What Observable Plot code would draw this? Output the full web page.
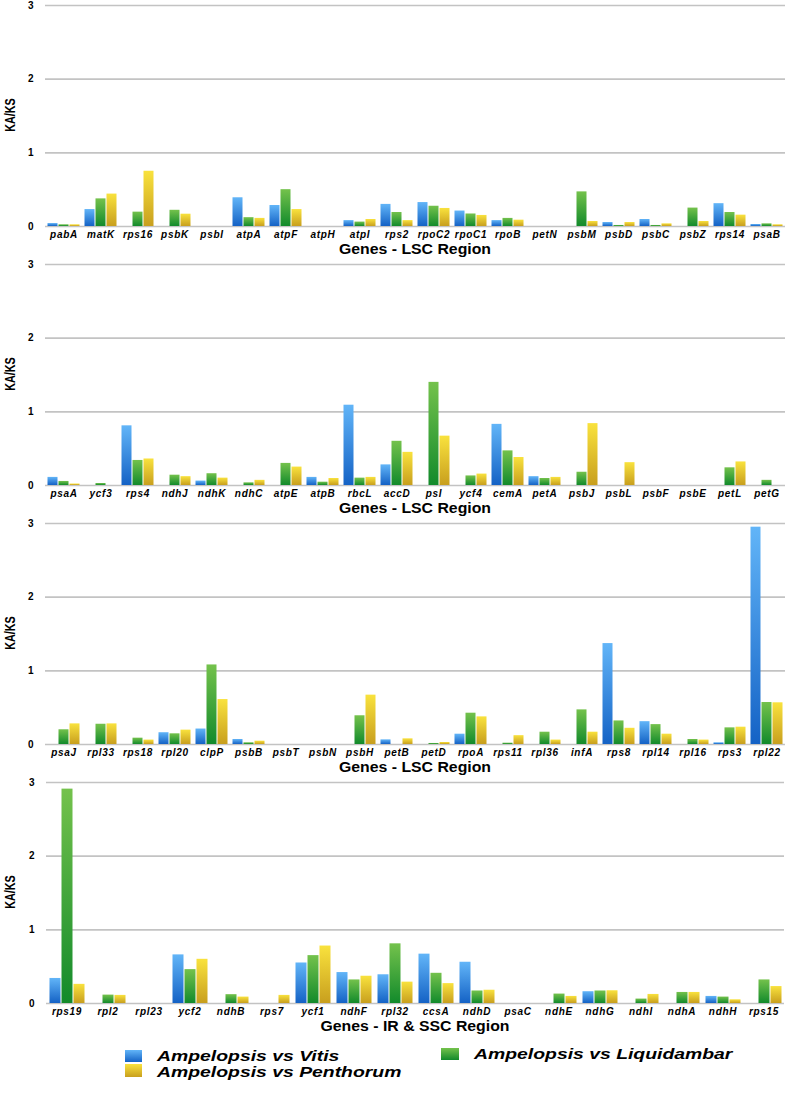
<!DOCTYPE html>
<html><head><meta charset="utf-8">
<script src="https://cdn.jsdelivr.net/npm/d3@7"></script>
<script src="https://cdn.jsdelivr.net/npm/@observablehq/plot@0.6"></script>
<style>
body{margin:0;background:#fff;width:787px;height:1109px;position:relative;overflow:hidden;font-family:"Liberation Sans",Arial,Helvetica,sans-serif;color:#000}
.panel{position:absolute;left:0;width:787px;height:259px}
.panel svg{position:absolute;left:0;top:0;overflow:visible}
.panel svg g[aria-label^="fx-axis"] text{font-style:italic;letter-spacing:0.7px;font-size:10px}
.panel svg g[aria-label^="y-axis"] text{font-size:10px;font-style:normal}
.ylab{position:absolute;left:-20.5px;top:107px;width:60px;height:16px;line-height:16px;text-align:center;font-weight:bold;font-size:15px;transform:rotate(-90deg) scaleX(0.72)}
.xtitle{position:absolute;left:45px;width:740px;top:240px;height:18px;line-height:18px;text-align:center;font-weight:bold;font-size:14px;transform:scaleX(1.13)}
.lg{position:absolute;font-weight:bold;font-style:italic;font-size:15.5px;line-height:16px;transform:scaleX(1.25);transform-origin:left center;white-space:nowrap}
.sw{position:absolute}
</style>
</head><body>
<svg width="0" height="0" style="position:absolute">
<defs>
<linearGradient id="gBlue" x1="0" y1="0" x2="0" y2="1"><stop offset="0" stop-color="#62b5f8"/><stop offset="1" stop-color="#1462c5"/></linearGradient>
<linearGradient id="gGreen" x1="0" y1="0" x2="0" y2="1"><stop offset="0" stop-color="#74c24c"/><stop offset="1" stop-color="#128a2b"/></linearGradient>
<linearGradient id="gYellow" x1="0" y1="0" x2="0" y2="1"><stop offset="0" stop-color="#f9e23d"/><stop offset="1" stop-color="#c89f1e"/></linearGradient>
</defs></svg>
<script>
const seriesNames = ["Ampelopsis vs Vitis", "Ampelopsis vs Liquidambar", "Ampelopsis vs Penthorum"];
const seriesFills = ["url(#gBlue)", "url(#gGreen)", "url(#gYellow)"];
const yTicks = [0, 1, 2, 3];

const genes1 = ["pabA","matK","rps16","psbK","psbI","atpA","atpF","atpH","atpI","rps2","rpoC2","rpoC1","rpoB","petN","psbM","psbD","psbC","psbZ","rps14","psaB"];
const vitis1 = [0.04,0.23,0,0,0,0.39,0.285,0,0.08,0.30,0.325,0.21,0.08,0,0,0.054,0.095,0,0.31,0.027];
const liquid1 = [0.023,0.375,0.195,0.22,0,0.12,0.50,0,0.06,0.19,0.275,0.17,0.11,0,0.47,0.014,0.014,0.25,0.19,0.036];
const penth1 = [0.023,0.44,0.75,0.167,0,0.11,0.23,0,0.095,0.08,0.245,0.15,0.086,0,0.068,0.054,0.036,0.068,0.154,0.023];

const genes2 = ["psaA","ycf3","rps4","ndhJ","ndhK","ndhC","atpE","atpB","rbcL","accD","psI","ycf4","cemA","petA","psbJ","psbL","psbF","psbE","petL","petG"];
const vitis2 = [0.11,0,0.81,0,0.06,0,0,0.11,1.09,0.28,0,0,0.83,0.12,0,0,0,0,0,0];
const liquid2 = [0.055,0.027,0.34,0.14,0.16,0.036,0.30,0.045,0.10,0.60,1.40,0.13,0.47,0.095,0.18,0,0,0,0.24,0.07];
const penth2 = [0.02,0,0.36,0.12,0.10,0.07,0.25,0.095,0.11,0.45,0.67,0.155,0.38,0.11,0.84,0.31,0,0,0.32,0];

const genes3 = ["psaJ","rpl33","rps18","rpl20","clpP","psbB","psbT","psbN","psbH","petB","petD","rpoA","rps11","rpl36","infA","rps8","rpl14","rpl16","rps3","rpl22"];
const vitis3 = [0,0,0,0.16,0.21,0.068,0,0,0,0.063,0,0.14,0,0,0,1.37,0.31,0,0.023,2.95];
const liquid3 = [0.20,0.275,0.086,0.145,1.08,0.023,0,0,0.39,0,0.014,0.425,0.018,0.167,0.47,0.32,0.27,0.068,0.226,0.57];
const penth3 = [0.28,0.28,0.06,0.195,0.61,0.045,0,0,0.67,0.077,0.027,0.375,0.12,0.06,0.167,0.22,0.14,0.06,0.235,0.566];

const genes4 = ["rps19","rpl2","rpl23","ycf2","ndhB","rps7","ycf1","ndhF","rpl32","ccsA","ndhD","psaC","ndhE","ndhG","ndhI","ndhA","ndhH","rps15"];
const vitis4 = [0.34,0,0,0.66,0,0,0.55,0.42,0.39,0.67,0.56,0,0,0.16,0,0,0.096,0];
const liquid4 = [2.91,0.114,0,0.46,0.12,0,0.65,0.32,0.81,0.41,0.17,0,0.128,0.17,0.06,0.15,0.087,0.32];
const penth4 = [0.26,0.11,0,0.60,0.087,0.11,0.78,0.37,0.29,0.27,0.18,0,0.096,0.173,0.123,0.15,0.05,0.23];

const panels = [
  {genes: genes1, vals: [vitis1, liquid1, penth1], title: "Genes - LSC Region"},
  {genes: genes2, vals: [vitis2, liquid2, penth2], title: "Genes - LSC Region"},
  {genes: genes3, vals: [vitis3, liquid3, penth3], title: "Genes - LSC Region"},
  {genes: genes4, vals: [vitis4, liquid4, penth4], title: "Genes - IR & SSC Region"}
];

panels.forEach((p, i) => {
  const rows = [];
  p.genes.forEach((g, j) => {
    seriesNames.forEach((s, k) => rows.push({gene: g, series: s, value: p.vals[k][j]}));
  });
  const div = document.createElement("div");
  div.className = "panel";
  div.style.top = (i * 259) + "px";
  document.body.appendChild(div);
  const chart = Plot.plot({
    width: 787, height: 243,
    marginTop: 5, marginBottom: 17, marginLeft: 45, marginRight: 2,
    style: {fontFamily: '"Liberation Sans", Arial, sans-serif', fontWeight: "bold", fontSize: "10px", background: "transparent", color: "#000", overflow: "visible"},
    facet: {data: rows, x: "gene"},
    fx: {domain: p.genes, padding: 0, axis: "bottom", tickSize: 0, tickPadding: 4, label: null},
    x: {domain: seriesNames, axis: null, paddingInner: 0, paddingOuter: 0.17},
    y: {domain: [0, 3], ticks: yTicks, tickFormat: d3.format("d"), tickSize: 0, tickPadding: 12, label: null},
    color: {domain: seriesNames, range: seriesFills},
    marks: [
      Plot.ruleY(yTicks, {stroke: "#c3c3c3", strokeWidth: 1.6}),
      Plot.barY(rows, {x: "series", y: "value", fill: "series", insetLeft: 0.5, insetRight: 0.5})
    ]
  });
  div.appendChild(chart);
  const yl = document.createElement("div");
  yl.className = "ylab"; yl.textContent = "KA/KS";
  div.appendChild(yl);
  const xt = document.createElement("div");
  xt.className = "xtitle"; xt.textContent = p.title;
  div.appendChild(xt);
});

const legendItems = [
  {name: seriesNames[0], grad: "linear-gradient(#62b5f8,#1462c5)", sx: 125, sy: 1050, sw: 17, sh: 12, tx: 157, ty: 1048},
  {name: seriesNames[2], grad: "linear-gradient(#f9e23d,#c89f1e)", sx: 125, sy: 1064, sw: 17, sh: 13, tx: 157, ty: 1064},
  {name: seriesNames[1], grad: "linear-gradient(#74c24c,#128a2b)", sx: 441, sy: 1048, sw: 18, sh: 12, tx: 474, ty: 1046}
];
legendItems.forEach(it => {
  const s = document.createElement("div");
  s.className = "sw";
  Object.assign(s.style, {left: it.sx + "px", top: it.sy + "px", width: it.sw + "px", height: it.sh + "px", background: it.grad});
  document.body.appendChild(s);
  const t = document.createElement("div");
  t.className = "lg";
  Object.assign(t.style, {left: it.tx + "px", top: it.ty + "px"});
  t.textContent = it.name;
  document.body.appendChild(t);
});
</script>
</body></html>
